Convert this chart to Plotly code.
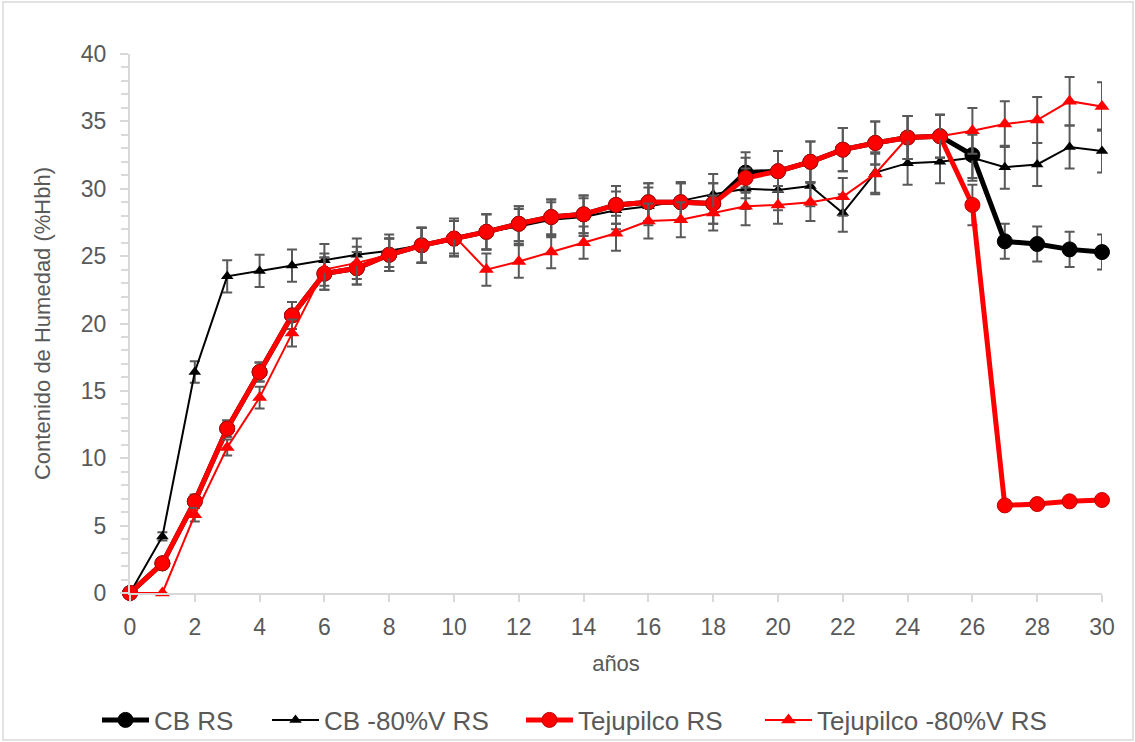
import plotly.graph_objects as go

years = list(range(0, 31))

cb_rs = [0, 2.2, 6.8, 12.2, 16.4, 20.6, 23.7, 24.1, 25.1, 25.8, 26.3, 26.8, 27.4, 27.9, 28.1, 28.8,
         29.0, 29.0, 28.9, 31.2, 31.3, 32.0, 32.9, 33.4, 33.8, 33.9, 32.5, 26.1, 25.9, 25.5, 25.3]
cb_rs_err = [0, 0.3, 0.5, 0.6, 0.7, 1.0, 1.2, 1.2, 1.2, 1.3, 1.3, 1.3, 1.3, 1.3, 1.4, 1.4,
             1.4, 1.4, 1.5, 1.5, 1.5, 1.5, 1.6, 1.6, 1.6, 1.6, 1.7, 1.3, 1.3, 1.3, 1.3]

cb_80 = [0, 4.2, 16.4, 23.5, 23.9, 24.3, 24.7, 25.1, 25.4, 25.8, 26.3, 26.8, 27.2, 27.7, 27.9, 28.4,
         28.7, 29.1, 29.6, 30.0, 29.9, 30.2, 28.2, 31.2, 31.9, 32.0, 32.3, 31.6, 31.8, 33.1, 32.8]
cb_80_err = [0, 0.3, 0.8, 1.2, 1.2, 1.2, 1.2, 1.2, 1.2, 1.3, 1.3, 1.3, 1.3, 1.3, 1.4, 1.4,
             1.4, 1.4, 1.5, 1.5, 1.5, 1.5, 1.4, 1.5, 1.6, 1.6, 1.7, 1.6, 1.6, 1.6, 1.6]

tej_rs = [0, 2.2, 6.8, 12.2, 16.4, 20.6, 23.7, 24.1, 25.1, 25.8, 26.3, 26.8, 27.4, 27.9, 28.1, 28.8,
          29.0, 29.0, 28.9, 30.8, 31.3, 32.0, 32.9, 33.4, 33.8, 33.9, 28.8, 6.5, 6.6, 6.8, 6.9]
tej_rs_err = [0, 0.3, 0.5, 0.6, 0.7, 1.0, 1.2, 1.2, 1.2, 1.3, 1.3, 1.3, 1.3, 1.3, 1.4, 1.4,
              1.4, 1.4, 1.5, 1.5, 1.5, 1.5, 1.6, 1.6, 1.6, 1.6, 1.5, 0, 0, 0, 0]

tej_80 = [0, 0, 5.8, 10.8, 14.5, 19.3, 24.0, 24.5, 25.1, 25.8, 26.5, 24.0, 24.6, 25.3, 26.0, 26.7,
          27.6, 27.7, 28.2, 28.7, 28.8, 29.0, 29.4, 31.1, 33.8, 33.9, 34.3, 34.8, 35.1, 36.5, 36.1]
tej_80_err = [0, 0, 0.5, 0.6, 0.8, 1.0, 1.2, 1.2, 1.2, 1.3, 1.3, 1.2, 1.2, 1.2, 1.2, 1.3,
              1.3, 1.3, 1.3, 1.4, 1.4, 1.4, 1.4, 1.5, 1.6, 1.6, 1.7, 1.7, 1.7, 1.8, 1.8]

ERR = dict(type="data", visible=True, color="#595959", thickness=2, width=5)

fig = go.Figure()
fig.add_trace(go.Scatter(x=years, y=cb_rs, name="CB RS", mode="lines+markers", legend="legend",
                         line=dict(color="black", width=5),
                         marker=dict(symbol="circle", size=15, color="black", line=dict(color="black", width=1)),
                         error_y=dict(array=cb_rs_err, **ERR), cliponaxis=False))
fig.add_trace(go.Scatter(x=years, y=cb_80, name="CB -80%V RS", mode="lines+markers", legend="legend2",
                         line=dict(color="black", width=2),
                         marker=dict(symbol="triangle-up", size=11, color="black"),
                         error_y=dict(array=cb_80_err, **ERR), cliponaxis=False))
fig.add_trace(go.Scatter(x=years, y=tej_rs, name="Tejupilco RS", mode="lines+markers", legend="legend3",
                         line=dict(color="#ff0000", width=5),
                         marker=dict(symbol="circle", size=15, color="#ff0000", line=dict(color="#c00000", width=1)),
                         error_y=dict(array=tej_rs_err, **ERR), cliponaxis=False))
fig.add_trace(go.Scatter(x=years, y=tej_80, name="Tejupilco -80%V RS", mode="lines+markers", legend="legend4",
                         line=dict(color="#ff0000", width=2),
                         marker=dict(symbol="triangle-up", size=13, color="#ff0000"),
                         error_y=dict(array=tej_80_err, **ERR), cliponaxis=False))

L, R, T, B = 130, 33, 54, 149
W, H = 1135, 742
pw, ph = W - L - R, H - T - B

text_starts = [155, 325, 579, 818]
leg_y = (593 - 720) / ph


def legend_at(px):
    return dict(orientation="h", x=(px - 58 - L) / pw, xanchor="left", y=leg_y, yanchor="middle",
                font=dict(size=26, color="#595959"), itemwidth=47, bgcolor="rgba(0,0,0,0)")


fig.update_layout(
    width=W, height=H,
    margin=dict(l=L, r=R, t=T, b=B, autoexpand=False),
    paper_bgcolor="white", plot_bgcolor="white",
    font=dict(family="Liberation Sans, Arial", size=23, color="#595959"),
    showlegend=True,
    legend=legend_at(text_starts[0]),
    legend2=legend_at(text_starts[1]),
    legend3=legend_at(text_starts[2]),
    legend4=legend_at(text_starts[3]),
    xaxis=dict(range=[0, 30], dtick=2, tick0=0, showgrid=False, zeroline=False,
               showline=True, linecolor="#d9d9d9", linewidth=2,
               ticks="outside", ticklen=7, tickwidth=2, tickcolor="#d9d9d9", ticklabelstandoff=5,
               title=dict(text="años", font=dict(size=22, color="#595959"), standoff=17),
               tickfont=dict(size=23, color="#595959")),
    yaxis=dict(range=[0, 40], dtick=5, tick0=0, showgrid=False, zeroline=False,
               showline=True, linecolor="#d9d9d9", linewidth=2,
               ticks="outside", ticklen=8, tickwidth=2, tickcolor="#d9d9d9", ticklabelstandoff=9,
               minor=dict(dtick=1, ticks="outside", ticklen=7, tickwidth=2, tickcolor="#d9d9d9"),
               title=dict(text="Contenido de Humedad (%Hbh)", font=dict(size=22, color="#595959"), standoff=24),
               tickfont=dict(size=23, color="#595959")),
    shapes=[dict(type="rect", xref="paper", yref="paper",
                 x0=(3 - L) / pw, x1=(1133 - L) / pw,
                 y0=(593 - 740) / ph, y1=(593 - 2) / ph,
                 line=dict(color="#d9d9d9", width=1.5), layer="below")],
)

fig.write_html("out.html", config={"displayModeBar": False},
               post_script="document.body.style.margin='0';")
